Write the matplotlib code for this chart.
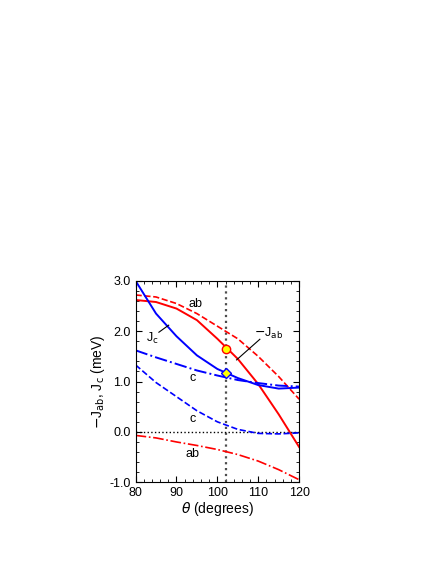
import matplotlib
matplotlib.use("Agg")
import matplotlib.pyplot as plt
from matplotlib.ticker import MultipleLocator, FormatStrFormatter

plt.rcParams['font.family'] = ['Liberation Sans', 'DejaVu Sans']

theta = [80, 85, 90, 95, 100, 105, 110, 115, 120]
jab_solid = [2.62, 2.58, 2.45, 2.22, 1.85, 1.45, 0.95, 0.35, -0.3]
ab_dash = [2.72, 2.68, 2.55, 2.35, 2.1, 1.85, 1.5, 1.1, 0.65]
ab_dashdot = [-0.07, -0.12, -0.2, -0.27, -0.35, -0.45, -0.58, -0.75, -0.95]
jc_solid = [3.0, 2.35, 1.9, 1.52, 1.25, 1.07, 0.93, 0.86, 0.88]
c_dashdot = [1.62, 1.48, 1.35, 1.22, 1.12, 1.03, 0.97, 0.92, 0.9]
c_dash = [1.33, 0.98, 0.7, 0.42, 0.2, 0.05, -0.03, -0.04, -0.02]
theta0 = 102
jab0 = 1.65
jc0 = 1.17

fig = plt.figure(figsize=(4.36, 5.64), dpi=100)
ax = fig.add_axes([0.311, 0.145, 0.375, 0.357])
ax.axvline(theta0, color='0.3', ls=':', lw=1.6)
ax.axhline(0, color='k', ls=':', lw=1)
ax.plot(theta, jab_solid, 'r-', lw=1.4)
ax.plot(theta, ab_dash, 'r--', lw=1.2)
ax.plot(theta, ab_dashdot, 'r-.', lw=1.2)
ax.plot(theta, jc_solid, 'b-', lw=1.4)
ax.plot(theta, c_dashdot, 'b-.', lw=1.4)
ax.plot(theta, c_dash, 'b--', lw=1.2)
ax.plot([theta0], [jab0], 'o', ms=6, mfc='yellow', mec='red', mew=1)
ax.plot([theta0], [jc0], 'D', ms=5, mfc='yellow', mec='blue', mew=1)

fs = 9
ax.text(94.6, 2.55, 'ab', fontsize=fs, ha='center', va='center')
ax.text(94, 1.08, 'c', fontsize=fs, ha='center', va='center')
ax.text(94, 0.25, 'c', fontsize=fs, ha='center', va='center')
ax.text(93.8, -0.44, 'ab', fontsize=fs, ha='center', va='center')
ax.text(84, 1.85, r'J$_\mathrm{c}$', fontsize=fs, ha='center', va='center')
ax.plot([85.7, 88.1], [1.98, 2.12], 'k-', lw=0.8)
ax.text(112.5, 1.95, r'$-$J$_\mathrm{ab}$', fontsize=fs, ha='center', va='center')
ax.plot([110.4, 104.7], [1.84, 1.43], 'k-', lw=0.8)

ax.set_xlim(80, 120)
ax.set_ylim(-1, 3)
ax.xaxis.set_major_locator(MultipleLocator(10))
ax.xaxis.set_minor_locator(MultipleLocator(2))
ax.yaxis.set_major_locator(MultipleLocator(1))
ax.yaxis.set_minor_locator(MultipleLocator(0.2))
ax.yaxis.set_major_formatter(FormatStrFormatter('%.1f'))
ax.tick_params(which='both', direction='in', top=True, right=True, labelsize=fs)
ax.tick_params(which='major', length=4)
ax.tick_params(which='minor', length=2)
ax.set_xlabel(r'$\theta$ (degrees)', fontsize=fs + 1, labelpad=1)
ax.set_ylabel(r'$-$J$_\mathrm{ab}$, J$_\mathrm{c}$ (meV)', fontsize=fs + 1, labelpad=2)
fig.savefig('out.png', dpi=100)
